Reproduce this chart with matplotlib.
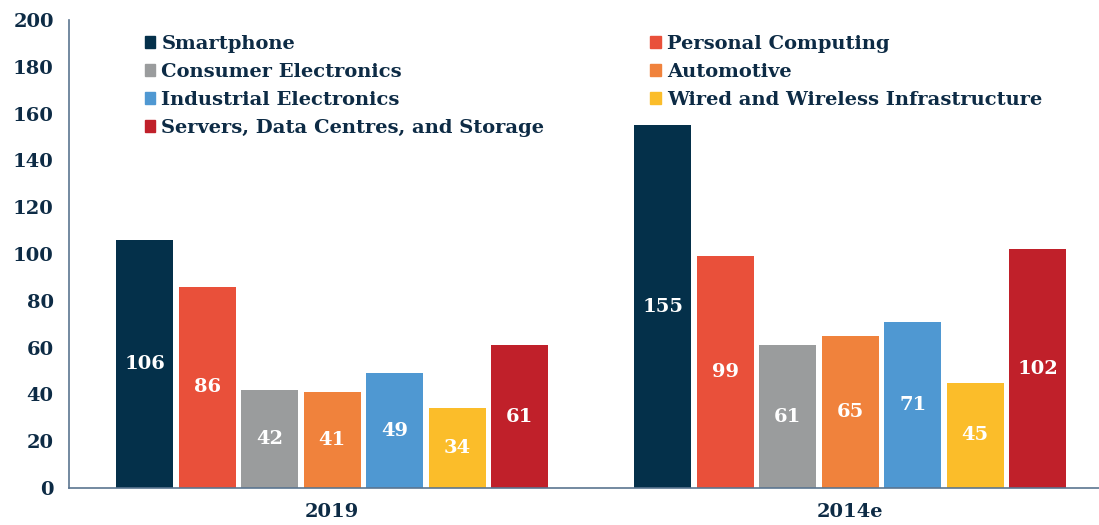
import matplotlib.pyplot as plt
from matplotlib.patches import Patch

# data
years = ["2019", "2014e"]
categories = ["Smartphone", "Personal Computing", "Consumer Electronics", "Automotive",
              "Industrial Electronics", "Wired and Wireless Infrastructure",
              "Servers, Data Centres, and Storage"]
values_2019 = [106, 86, 42, 41, 49, 34, 61]
values_2014e = [155, 99, 61, 65, 71, 45, 102]
colors = ["#04304a", "#e9503a", "#9a9c9d", "#f0823c", "#4f98d2", "#fbbd2a", "#c0202a"]

navy = "#0d2b45"
plt.rcParams['font.family'] = ['DejaVu Serif']
plt.rcParams['font.weight'] = 'bold'

fig = plt.figure(figsize=(10.99, 5.25), dpi=100)
ax = fig.add_axes([0.0628, 0.0705, 0.9372, 0.8915])

group_pos = [0, 8.29]
width = 0.91
n = len(categories)
handles = []
for i, cat in enumerate(categories):
    xs = [g + (i - (n - 1) / 2) for g in group_pos]
    vals = [values_2019[i], values_2014e[i]]
    bars = ax.bar(xs, vals, width=width, color=colors[i], label=cat)
    ax.bar_label(bars, labels=[str(v) for v in vals], label_type='center',
                 color='white', fontsize=14, fontweight='bold')
    handles.append(Patch(color=colors[i], label=cat))

ax.set_xlim(-4.21, 12.27)
ax.set_ylim(0, 200)
ax.set_yticks(range(0, 201, 20))
ax.set_xticks(group_pos)
ax.set_xticklabels(years)
ax.tick_params(axis='both', length=0, labelsize=14, labelcolor=navy)
ax.tick_params(axis='x', pad=11)
ax.tick_params(axis='y', pad=11)

for s in ['top', 'right']:
    ax.spines[s].set_visible(False)
for s in ['left', 'bottom']:
    ax.spines[s].set_color('#5b7590')
    ax.spines[s].set_linewidth(1.2)

col1 = [handles[0], handles[2], handles[4], handles[6]]
col2 = [handles[1], handles[3], handles[5]]
leg_kw = dict(frameon=False, handlelength=0.55, handleheight=0.55,
              handletextpad=0.3, labelspacing=0.52, borderaxespad=0,
              labelcolor=navy, prop={'weight': 'bold', 'size': 14})
leg1 = ax.legend(handles=col1, loc='upper left', bbox_to_anchor=(0.066, 0.985), **leg_kw)
ax.add_artist(leg1)
ax.legend(handles=col2, loc='upper left', bbox_to_anchor=(0.557, 0.985), **leg_kw)

fig.savefig("out.png", dpi=100)
